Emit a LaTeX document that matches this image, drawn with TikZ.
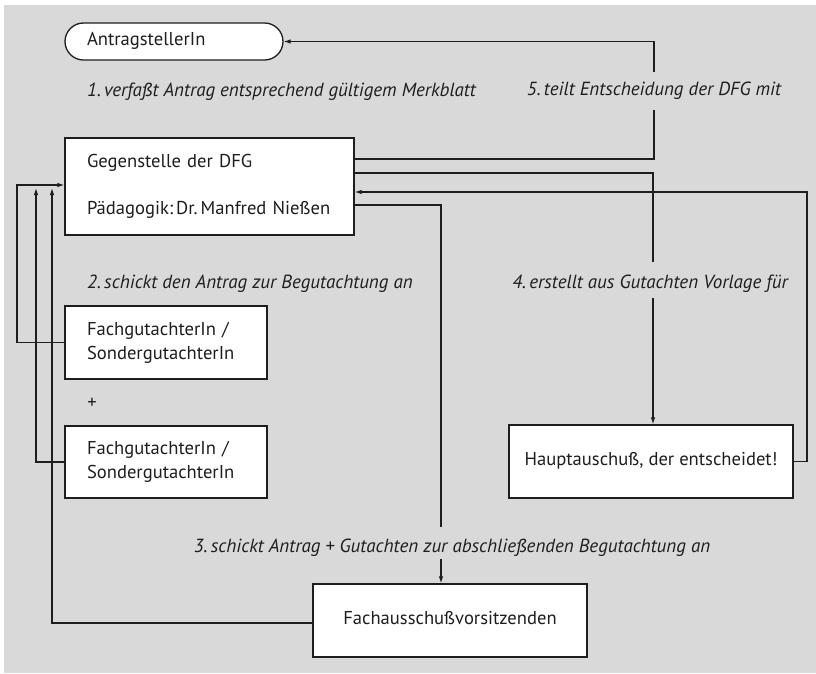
\documentclass[tikz,border=0pt]{standalone}
\usepackage{fontspec}
\setmainfont{PT Sans}
\usetikzlibrary{arrows.meta}
\definecolor{bgc}{RGB}{217,217,217}
\definecolor{ink}{RGB}{30,30,30}
\begin{document}
\begin{tikzpicture}[x=1pt,y=-1pt,
  every node/.style={font=\fontsize{18.6}{24}\selectfont, text=ink},
  box/.style={draw=ink, fill=white, line width=1.3pt, inner xsep=22pt, inner ysep=0pt, align=left},
  cbox/.style={draw=ink, fill=white, line width=1.3pt, inner sep=0pt, text height=13pt, text depth=4.5pt},
  lab/.style={font=\fontsize{19}{24}\selectfont\itshape, inner sep=0pt},
  conn/.style={draw=ink, line width=1.1pt},
  arr/.style={conn, -{Latex[length=7pt,width=4.5pt]}}
]
\useasboundingbox (0,0) rectangle (816,673);
\fill[bgc] (4,5) rectangle (816,673);

\node[box, rounded corners=18.5pt, minimum width=218pt, minimum height=37pt, text width=174pt, text height=13pt, text depth=4.5pt] (ant) at (174,41.5) {AntragstellerIn};
\node[box, text width=245pt, minimum height=97pt] (geg) at (209.5,186.5) {\mbox{Gegenstelle der DFG}\\[23pt]\mbox{Pädagogik:\,Dr.\,Manfred Nießen}};
\node[box, text width=158pt, minimum height=73pt] (fg1) at (166,342.5) {FachgutachterIn /\\SondergutachterIn};
\node[box, text width=158pt, minimum height=72pt] (fg2) at (166,462) {FachgutachterIn /\\SondergutachterIn};
\node[inner sep=0pt, anchor=base] (plus) at (92,408) {+};
\node[cbox, minimum width=284pt, minimum height=73pt] (haupt) at (651,461.5) {Hauptauschuß, der entscheidet!};
\node[cbox, minimum width=274pt, minimum height=73pt] (fach) at (450,620.5) {Fachausschußvorsitzenden};

\node[lab, anchor=base west] (l1) at (87,96.5) {1.\,verfaßt Antrag entsprechend gültigem Merkblatt};
\node[lab, anchor=base] (l5) at (654,95) {5.\,teilt Entscheidung der DFG mit};
\node[lab, anchor=base west] (l2) at (87,288) {2.\,schickt den Antrag zur Begutachtung an};
\node[lab, anchor=base] (l4) at (650,288) {4.\,erstellt aus Gutachten Vorlage für};
\node[lab, anchor=base] (l3) at (452,552) {3.\,schickt Antrag + Gutachten zur abschließenden Begutachtung an};

\coordinate (g5a) at (654,110); \coordinate (g5b) at (654,72);
\coordinate (g4a) at (653,262); \coordinate (g4b) at (653,298);
\coordinate (g3a) at (441,527); \coordinate (g3b) at (441,559);
\coordinate (rr) at (807,192);
\coordinate (c1) at (17,185); \coordinate (c2) at (36,188); \coordinate (c3) at (52,188);

\draw[conn] ([yshift=27.5pt]geg.east) -| (g5a);
\draw[arr] (g5b) |- (ant.east);
\draw[conn] ([yshift=13.5pt]geg.east) -| (g4a);
\draw[arr] (g4b) -- (g4b |- haupt.north);
\draw[arr] (haupt.east) -| (rr) -- ([yshift=-5.5pt]geg.east);
\draw[conn] ([yshift=-18.5pt]geg.east) -| (g3a);
\draw[arr] (g3b) -- (g3b |- fach.north);
\draw[arr] (fg1.west) -| (c1) -- ([yshift=1.5pt]geg.west);
\draw[arr] (fg2.west) -| (c2);
\draw[arr] ([yshift=-2.5pt]fach.west) -| (c3);
\end{tikzpicture}
\end{document}
